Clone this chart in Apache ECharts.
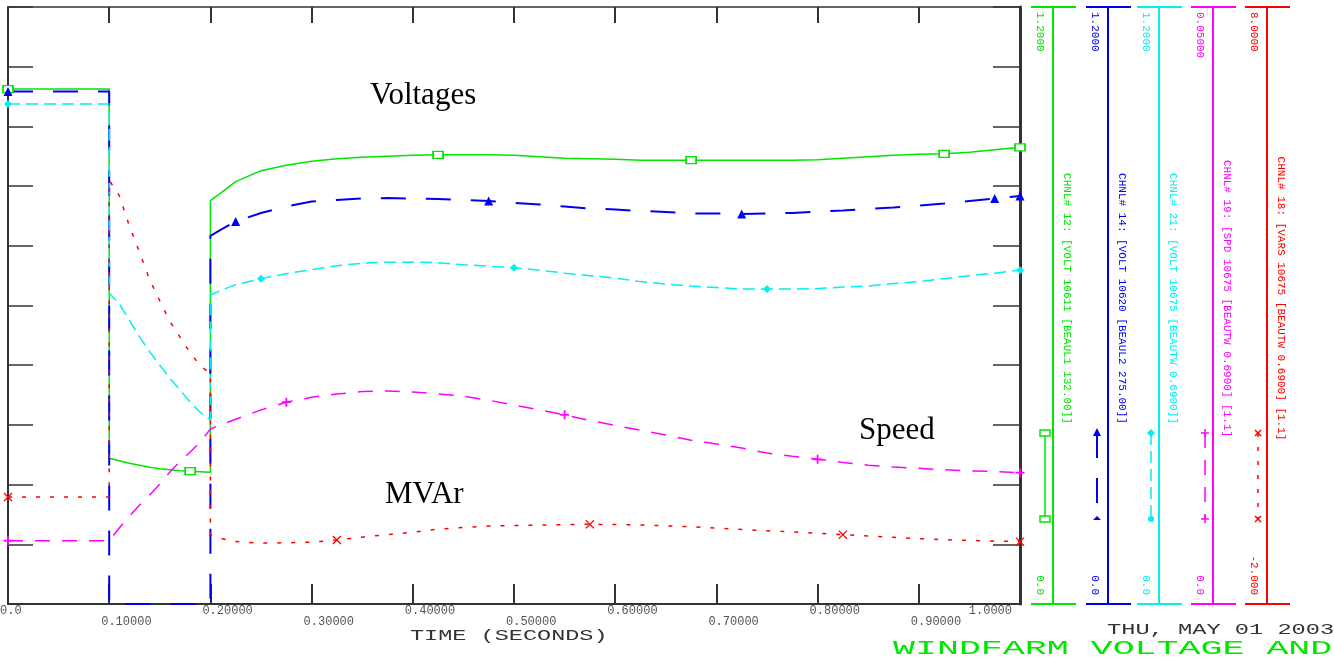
<!DOCTYPE html>
<html>
<head>
<meta charset="utf-8">
<title>Windfarm voltage and speed</title>
<script src="https://cdn.jsdelivr.net/npm/echarts@6/dist/echarts.min.js"></script>
<style>
html, body { margin: 0; padding: 0; background: #fff; }
#chart { width: 1334px; height: 660px; }
</style>
</head>
<body>
<div id="chart"></div>
<script>
// time base in seconds, 0.1 and 0.2 are listed twice for the step changes
var timeS = [0, 0.1, 0.1, 0.11, 0.12, 0.13, 0.14, 0.15, 0.16, 0.17, 0.18, 0.19, 0.2, 0.2, 0.21,
  0.225, 0.25, 0.275, 0.3, 0.325, 0.35, 0.375, 0.4, 0.425, 0.45, 0.475, 0.5, 0.525, 0.55, 0.575, 0.6,
  0.625, 0.65, 0.675, 0.7, 0.725, 0.75, 0.775, 0.8, 0.825, 0.85, 0.875, 0.9, 0.925, 0.95, 0.975, 1.0];

// CHNL 12 - volt 10611
var voltBeaul1 = [1.035, 1.035, 0.293, 0.288, 0.283, 0.279, 0.275, 0.272, 0.270, 0.268, 0.267, 0.266, 0.265, 0.811, 0.826,
  0.849, 0.871, 0.882, 0.890, 0.895, 0.898, 0.900, 0.902, 0.903, 0.903, 0.903, 0.902, 0.899, 0.896, 0.895, 0.894,
  0.892, 0.892, 0.892, 0.892, 0.892, 0.892, 0.892, 0.893, 0.896, 0.899, 0.902, 0.904, 0.905, 0.908, 0.913, 0.918];
// CHNL 14 - volt 10620
var voltBeaul2 = [1.030, 1.030, 0, 0, 0, 0, 0, 0, 0, 0, 0, 0, 0, 0.740, 0.752,
  0.769, 0.786, 0.799, 0.809, 0.812, 0.815, 0.816, 0.815, 0.814, 0.812, 0.810, 0.806, 0.803, 0.799, 0.795, 0.793,
  0.790, 0.788, 0.785, 0.785, 0.784, 0.785, 0.786, 0.789, 0.791, 0.794, 0.797, 0.801, 0.805, 0.810, 0.815, 0.820];
// CHNL 21 - volt 10675
var voltBeautw = [1.005, 1.005, 0.625, 0.603, 0.570, 0.537, 0.507, 0.480, 0.454, 0.430, 0.406, 0.385, 0.370, 0.621, 0.630,
  0.642, 0.654, 0.664, 0.672, 0.680, 0.685, 0.687, 0.687, 0.686, 0.682, 0.679, 0.676, 0.671, 0.665, 0.660, 0.655,
  0.648, 0.643, 0.639, 0.636, 0.633, 0.633, 0.633, 0.634, 0.637, 0.639, 0.644, 0.648, 0.654, 0.660, 0.665, 0.671];
// CHNL 19 - speed 10675
var speedBeautw = [0.0053, 0.0053, 0.0053, 0.00636, 0.00737, 0.00829, 0.00913, 0.01005, 0.01106, 0.01193, 0.01273, 0.01357, 0.01466, 0.01466, 0.01500,
  0.01547, 0.01626, 0.01690, 0.01731, 0.01758, 0.01779, 0.01784, 0.01776, 0.01760, 0.01740, 0.01707, 0.01666, 0.01626, 0.01584, 0.01537, 0.01496,
  0.01456, 0.01415, 0.01372, 0.01341, 0.01306, 0.01264, 0.01237, 0.01212, 0.01185, 0.01162, 0.01147, 0.01136, 0.01124, 0.01115, 0.01110, 0.01100];
// CHNL 18 - vars 10675
var varsBeautw = [-0.208, -0.208, 5.10, 4.84, 4.33, 3.89, 3.43, 3.08, 2.73, 2.47, 2.21, 1.99, 1.86, -0.84, -0.90,
  -0.955, -0.980, -0.975, -0.963, -0.928, -0.880, -0.836, -0.798, -0.745, -0.718, -0.694, -0.686, -0.678, -0.670, -0.665, -0.670,
  -0.675, -0.690, -0.707, -0.730, -0.752, -0.773, -0.793, -0.815, -0.839, -0.861, -0.883, -0.905, -0.924, -0.935, -0.945, -0.956];

var xTickLabels = ['0.0', '0.10000', '0.20000', '0.30000', '0.40000', '0.50000',
  '0.60000', '0.70000', '0.80000', '0.90000', '1.0000'];

var chanNames = [
  'CHNL# 12: [VOLT 10611 [BEAUL1 132.00]]',
  'CHNL# 14: [VOLT 10620 [BEAUL2 275.00]]',
  'CHNL# 21: [VOLT 10675 [BEAUTW 0.6900]]',
  'CHNL# 19: [SPD 10675 [BEAUTW 0.6900] [1.1]',
  'CHNL# 18: [VARS 10675 [BEAUTW 0.6900] [1.1]'
];
var chanMin = [0, 0, 0, 0, -2];
var chanMax = [1.2, 1.2, 1.2, 0.05, 8];
var chanTopLabel = ['1.2000', '1.2000', '1.2000', '0.05000', '8.0000'];
var chanBottomLabel = ['0.0', '0.0', '0.0', '0.0', '-2.000'];
// times where the curve carries a marker
var chanMarks = [
  [0, 0.18, 0.425, 0.675, 0.925, 1],
  [0, 0.225, 0.475, 0.725, 0.975, 1],
  [0, 0.25, 0.5, 0.75, 1],
  [0, 0.275, 0.55, 0.8, 1],
  [0, 0.325, 0.575, 0.825, 1]
];
var chanData = [voltBeaul1, voltBeaul2, voltBeautw, speedBeautw, varsBeautw];

// styles
var PLUS = 'path://M4,0H6V4H10V6H6V10H4V6H0V4H4Z';
var CROSS = 'path://M0,1L1,0L5,4L9,0L10,1L6,5L10,9L9,10L5,6L1,10L0,9L4,5Z';
var colors = ['#00e600', '#0000f0', '#00f0f0', '#ff00ff', '#ff0000'];
var axisOffset = [33, 88, 139, 193, 247];
var nameGap = [3, -2, 1, 4, 5];
var dashes = ['solid', [25, 20], [12, 6], [15, 12], [4, 10]];
var widths = [1.5, 2, 1.5, 1.5, 1.5];
var symbols = ['rect', 'triangle', 'diamond', PLUS, CROSS];
var symbolSizes = [[10, 7], 9, 8, 9, 9];
var sampleX = [1045, 1097, 1151, 1205, 1258];
var mono = '"Liberation Mono", "DejaVu Sans Mono", monospace';
var frame = '#333';

var chart = echarts.init(document.getElementById('chart'));

function frameY(pos, len, w) {
  return {
    gridIndex: 0, type: 'value', position: pos, min: 0, max: 10, interval: 1,
    axisLine: { show: true, onZero: false, lineStyle: { color: frame, width: w } },
    axisTick: { show: true, inside: true, length: len, lineStyle: { color: frame, width: 1.5 } },
    axisLabel: { show: false }, splitLine: { show: false }
  };
}

var yAxes = [frameY('left', 25, 2), frameY('right', 27, 3)];
var series = [];

chanData.forEach(function (vals, i) {
  var lo = chanMin[i], hi = chanMax[i];
  var labelBase = { show: true, inside: true, rotate: -90, margin: 13, verticalAlign: 'middle',
    color: colors[i], fontFamily: mono, fontSize: 11 };
  // axis carrying data, bottom cap and bottom label
  yAxes.push({
    gridIndex: 0, type: 'value', position: 'right', offset: axisOffset[i],
    min: lo, max: hi, interval: hi - lo,
    axisLine: { show: true, onZero: false, lineStyle: { color: colors[i], width: 2 } },
    axisTick: { show: true, inside: true, length: 22, lineStyle: { color: colors[i], width: 2 } },
    axisLabel: Object.assign({}, labelBase, {
      align: 'right', padding: [0, 9, 0, 0],
      formatter: function (v) { return Math.abs(v - lo) < 1e-9 ? chanBottomLabel[i] : ''; }
    }),
    splitLine: { show: false },
    name: chanNames[i], nameLocation: 'middle', nameRotate: -90, nameGap: nameGap[i],
    nameTextStyle: { color: colors[i], fontFamily: mono, fontSize: 11, padding: [0, 14, 0, 0] }
  });
  // twin axis: right half of the caps and the top label
  yAxes.push({
    gridIndex: 0, type: 'value', position: 'right', offset: axisOffset[i],
    min: lo, max: hi, interval: hi - lo,
    axisLine: { show: false, onZero: false },
    axisTick: { show: true, inside: false, length: 23, lineStyle: { color: colors[i], width: 2 } },
    axisLabel: Object.assign({}, labelBase, {
      align: 'left', padding: [0, 0, 0, 5],
      formatter: function (v) { return Math.abs(v - hi) < 1e-9 ? chanTopLabel[i] : ''; }
    }),
    splitLine: { show: false }
  });

  var marks = chanMarks[i];
  series.push({
    name: chanNames[i], type: 'line', xAxisIndex: 0, yAxisIndex: 2 + i * 2,
    data: timeS.map(function (t, k) { return [t, vals[k]]; }),
    showSymbol: true, symbol: symbols[i],
    symbolSize: function (v) { return marks.indexOf(v[0]) >= 0 ? symbolSizes[i] : 0; },
    itemStyle: i === 0 ? { color: '#fff', borderColor: colors[i], borderWidth: 1.5 } : { color: colors[i], borderWidth: 0 },
    lineStyle: { color: colors[i], width: widths[i], type: dashes[i] },
    clip: false, silent: true, emphasis: { disabled: true }, z: 3
  });
});

function labelAxis(even, margin) {
  return {
    gridIndex: 1, type: 'value', position: 'bottom', min: 0, max: 1, interval: 0.1,
    axisLine: { show: false, onZero: false }, axisTick: { show: false }, splitLine: { show: false },
    axisLabel: {
      show: true, margin: margin, align: 'left', alignMaxLabel: 'right',
      color: '#555', fontFamily: mono, fontSize: 12,
      formatter: function (v) {
        var k = Math.round(v * 10);
        return (k % 2 === 0) === even ? xTickLabels[k] : '';
      }
    }
  };
}

// legend glyphs beside each channel axis
function glyph(i) {
  var x = sampleX[i], c = colors[i], ends = [433, 519], out = [];
  out.push({ type: 'line', shape: { x1: x, y1: ends[0], x2: x, y2: ends[1] },
    style: { stroke: c, lineWidth: widths[i], lineDash: dashes[i] === 'solid' ? null : dashes[i] } });
  ends.forEach(function (y, k) {
    if (i === 0) {
      out.push({ type: 'rect', shape: { x: x - 5, y: y - 3, width: 10, height: 6 }, style: { fill: '#fff', stroke: c, lineWidth: 1.5 } });
    } else if (i === 1) {
      out.push({ type: 'polygon', shape: { points: k === 0 ? [[x, y - 5], [x - 4, y + 3], [x + 4, y + 3]] : [[x - 4, y + 1], [x + 4, y + 1], [x, y - 3]] }, style: { fill: c } });
    } else if (i === 2) {
      out.push(k === 0
        ? { type: 'polygon', shape: { points: [[x, y - 4], [x + 4, y], [x, y + 4], [x - 4, y]] }, style: { fill: c } }
        : { type: 'circle', shape: { cx: x, cy: y, r: 3 }, style: { fill: c } });
    } else if (i === 3) {
      out.push({ type: 'line', shape: { x1: x - 4, y1: y, x2: x + 4, y2: y }, style: { stroke: c, lineWidth: 1.5 } });
      out.push({ type: 'line', shape: { x1: x, y1: y - 4, x2: x, y2: y + 4 }, style: { stroke: c, lineWidth: 1.5 } });
    } else {
      out.push({ type: 'line', shape: { x1: x - 3, y1: y - 3, x2: x + 3, y2: y + 3 }, style: { stroke: c, lineWidth: 1.5 } });
      out.push({ type: 'line', shape: { x1: x - 3, y1: y + 3, x2: x + 3, y2: y - 3 }, style: { stroke: c, lineWidth: 1.5 } });
    }
  });
  return out;
}

function txt(text, x, y, font, fill, sx) {
  return { type: 'text', x: x, y: y, scaleX: sx || 1, z: 10, silent: true,
    style: { text: text, font: font, fill: fill, textAlign: 'left', textVerticalAlign: 'middle' } };
}

var graphics = [];
for (var g = 0; g < 5; g++) graphics = graphics.concat(glyph(g));
graphics.push(
  txt('Voltages', 370, 96, '31px "Liberation Serif", serif', '#000'),
  txt('Speed', 859, 431, '31px "Liberation Serif", serif', '#000'),
  txt('MVAr', 385, 495, '31px "Liberation Serif", serif', '#000'),
  txt('TIME (SECONDS)', 410, 636, '14px ' + mono, '#333', 1.68),
  txt('THU, MAY 01 2003', 1107, 630, '14px ' + mono, '#333', 1.69),
  txt('WINDFARM VOLTAGE AND', 893, 649, '20px ' + mono, '#00e600', 1.83)
);

var option = {
  backgroundColor: '#fff',
  animation: false,
  grid: [
    { left: 8, top: 7, width: 1012, height: 597, outerBoundsMode: 'none' },
    { left: 0, top: 7, width: 1012, height: 597, outerBoundsMode: 'none' }
  ],
  xAxis: [
    { gridIndex: 0, type: 'value', position: 'bottom', min: 0, max: 1, interval: 0.1,
      axisLine: { show: true, onZero: false, lineStyle: { color: frame, width: 2 } },
      axisTick: { show: true, inside: true, length: 20, lineStyle: { color: frame, width: 2 } },
      axisLabel: { show: false }, splitLine: { show: false } },
    { gridIndex: 0, type: 'value', position: 'top', min: 0, max: 1, interval: 0.1,
      axisLine: { show: true, onZero: false, lineStyle: { color: frame, width: 1.5 } },
      axisTick: { show: true, inside: true, length: 16, lineStyle: { color: frame, width: 2 } },
      axisLabel: { show: false }, splitLine: { show: false } },
    labelAxis(true, 1),
    labelAxis(false, 12)
  ],
  yAxis: yAxes.concat([{ gridIndex: 1, type: 'value', min: 0, max: 1, show: false }]),
  series: series,
  graphic: graphics
};
chart.setOption(option);
</script>
</body>
</html>
